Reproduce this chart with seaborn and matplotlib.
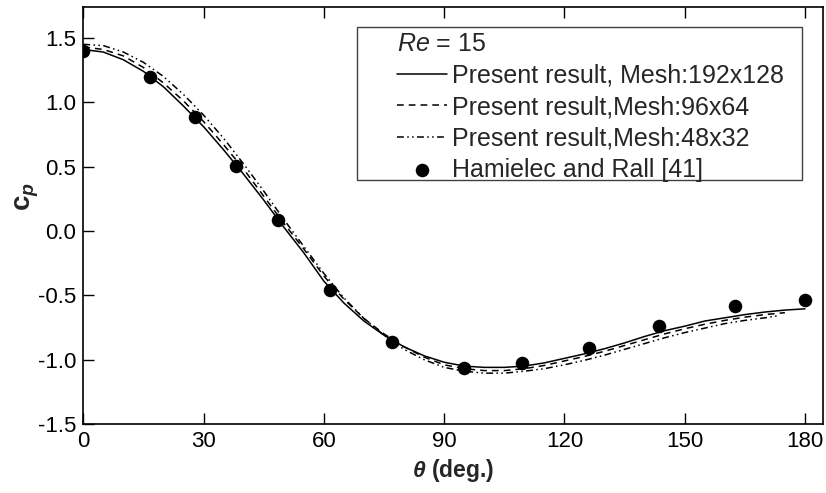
import matplotlib
matplotlib.use("Agg")
import matplotlib.pyplot as plt
import seaborn as sns
from matplotlib.patches import Rectangle

# ---------------- data ----------------
theta_fine = [0, 5, 10, 15, 20, 25, 30, 35, 40, 45, 50, 55, 60, 65, 70, 75, 80, 85, 90,
              95, 100, 105, 110, 115, 120, 125, 130, 135, 140, 145, 150, 155, 160, 165,
              170, 175, 180]
cp_fine = [1.41, 1.39, 1.33, 1.24, 1.12, 0.97, 0.81, 0.63, 0.44, 0.24, 0.03, -0.17, -0.39,
           -0.56, -0.70, -0.81, -0.90, -0.97, -1.02, -1.05, -1.06, -1.06, -1.05, -1.025,
           -0.99, -0.955, -0.915, -0.87, -0.82, -0.775, -0.74, -0.70, -0.675, -0.65,
           -0.63, -0.615, -0.605]

theta_mid = [0, 5, 10, 15, 20, 25, 30, 35, 40, 45, 50, 55, 60, 65, 70, 75, 80, 85, 90,
             95, 100, 105, 110, 115, 120, 125, 130, 135, 140, 145, 150, 155, 160, 165,
             170, 175]
cp_mid = [1.43, 1.41, 1.36, 1.27, 1.15, 1.01, 0.85, 0.67, 0.48, 0.27, 0.06, -0.14, -0.35,
          -0.53, -0.68, -0.80, -0.90, -0.98, -1.04, -1.07, -1.085, -1.085, -1.07, -1.045,
          -1.01, -0.975, -0.935, -0.89, -0.845, -0.80, -0.76, -0.725, -0.695, -0.67,
          -0.65, -0.635]

theta_coarse = [0, 5, 10, 15, 20, 25, 30, 35, 40, 45, 50, 55, 60, 65, 70, 75, 80, 85, 90,
                95, 100, 105, 110, 115, 120, 125, 130, 135, 140, 145, 150, 155, 160, 165,
                170, 173]
cp_coarse = [1.45, 1.44, 1.39, 1.31, 1.20, 1.06, 0.90, 0.72, 0.52, 0.31, 0.09, -0.12, -0.33,
             -0.52, -0.68, -0.81, -0.92, -1.00, -1.06, -1.09, -1.105, -1.105, -1.09, -1.07,
             -1.04, -1.005, -0.965, -0.92, -0.875, -0.83, -0.79, -0.755, -0.72, -0.695,
             -0.675, -0.66]

theta_exp = [0, 16.7, 27.8, 38.2, 48.5, 61.5, 77.1, 94.9, 109.5, 126.2, 143.6, 162.5, 180]
cp_exp = [1.40, 1.20, 0.886, 0.507, 0.087, -0.457, -0.86, -1.066, -1.027, -0.91, -0.737,
          -0.58, -0.535]

labels = ["Present result, Mesh:192x128", "Present result,Mesh:96x64",
          "Present result,Mesh:48x32", "Hamielec and Rall [41]"]
x_ticks = [0, 30, 60, 90, 120, 150, 180]
y_ticks = [-1.5, -1.0, -0.5, 0.0, 0.5, 1.0, 1.5]

# ---------------- style ----------------
sns.set_theme(style="ticks")
plt.rcParams["font.family"] = ["Liberation Sans", "DejaVu Sans"]
plt.rcParams["axes.unicode_minus"] = False
plt.rcParams["mathtext.fontset"] = "custom"
plt.rcParams["mathtext.rm"] = "Liberation Sans"
plt.rcParams["mathtext.it"] = "Liberation Sans:italic"
plt.rcParams["mathtext.bf"] = "Liberation Sans:bold"
try:
    plt.rcParams["mathtext.bfit"] = "Liberation Sans:italic:bold"
    bfit_ok = True
except KeyError:
    bfit_ok = False

fig = plt.figure(figsize=(8.26, 4.93), dpi=100)
W, H = 826, 493
ax = fig.add_axes([83.3 / W, 1 - 424 / H, (823 - 83.3) / W, (424 - 7) / H])

lw = 1.1
sns.lineplot(x=theta_fine, y=cp_fine, ax=ax, color="black", lw=lw, linestyle="-",
             estimator=None, sort=False, label=labels[0])
sns.lineplot(x=theta_mid, y=cp_mid, ax=ax, color="black", lw=lw,
             linestyle=(0, (4.4, 3.3)), estimator=None, sort=False, label=labels[1])
sns.lineplot(x=theta_coarse, y=cp_coarse, ax=ax, color="black", lw=lw,
             linestyle=(0, (4.5, 2.2, 1.0, 2.2, 1.0, 2.2)), estimator=None, sort=False,
             label=labels[2])
sns.scatterplot(x=theta_exp, y=cp_exp, ax=ax, color="black", s=95, edgecolor="black",
                linewidth=0, label=labels[3], zorder=5)

ax.set_xlim(0, 184.5)
ax.set_ylim(-1.5, 1.74)
ax.set_xticks(x_ticks)
ax.set_xticklabels([str(t) for t in x_ticks])
ax.set_yticks(y_ticks)
ax.set_yticklabels([f"{v:.1f}" for v in y_ticks])

ax.tick_params(axis="both", direction="in", length=7.7, width=1.0, labelsize=16,
               pad=5, color="black", labelcolor="black")
ax.tick_params(axis="x", top=True, bottom=True)
ax.tick_params(axis="y", left=True, right=False)
for sp in ax.spines.values():
    sp.set_visible(True)
    sp.set_linewidth(1.2)
    sp.set_color("black")

if bfit_ok:
    xl = r"$\mathbfit{\theta}$ (deg.)"
    yl = r"$\mathbf{c}_{\mathbfit{p}}$"
else:
    xl = r"$\theta$ (deg.)"
    yl = r"$\mathbf{c}_{p}$"
ax.set_xlabel(xl, fontsize=16.5, fontweight="bold", labelpad=4)
ax.set_ylabel(yl, fontsize=20, fontweight="bold", rotation=90)
ax.yaxis.set_label_coords(-0.057, 0.545)

# legend box
rect = Rectangle((357 / W, 1 - 180 / H), 445 / W, 153 / H, transform=fig.transFigure,
                 facecolor="white", edgecolor="#404040", lw=1.0, zorder=3)
fig.patches.append(rect)

h, l = ax.get_legend_handles_labels()
ax.get_legend().remove()
leg = fig.legend(h, l, loc="upper left", bbox_to_anchor=(397 / W, 1 - 32 / H),
                 bbox_transform=fig.transFigure, frameon=False, fontsize=18,
                 title=r"$\mathit{Re}$ = 15", title_fontsize=18, alignment="left",
                 borderpad=0, borderaxespad=0, handlelength=2.0, handletextpad=0.2,
                 labelspacing=0.3, scatterpoints=1)
leg.set_zorder(6)

fig.savefig("out.png", dpi=100)
